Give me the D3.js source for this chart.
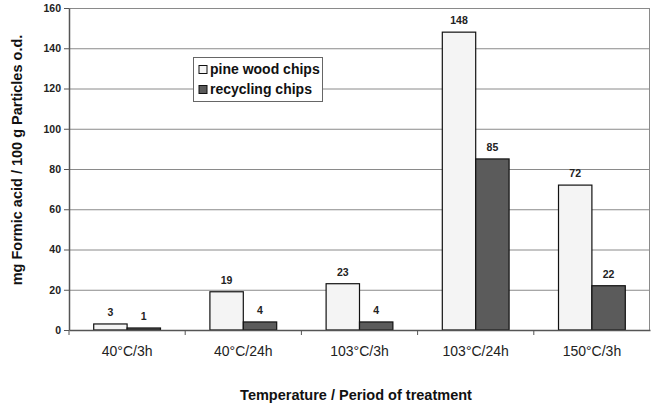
<!DOCTYPE html>
<html>
<head>
<meta charset="utf-8">
<script src="https://cdn.jsdelivr.net/npm/d3@7"></script>
<style>
  body { margin: 0; background: #fff; }
  text { font-family: "Liberation Sans", Arial, sans-serif; }
</style>
</head>
<body>
<div id="chart-container"></div>
<script>
let categories = ["40°C/3h", "40°C/24h", "103°C/3h", "103°C/24h", "150°C/3h"];
let pineValues = [3, 19, 23, 148, 72];
let recyclingValues = [1, 4, 4, 85, 22];
let seriesNames = ["pine wood chips", "recycling chips"];
let yTicks = [0, 20, 40, 60, 80, 100, 120, 140, 160];

let width = 654;
let height = 405;
let plot = { left: 69, right: 650, top: 8, bottom: 330 };
let colors = ["#f4f4f4", "#5b5b5b"];

var svg = d3
  .select("#chart-container")
  .append("svg")
  .attr("width", width)
  .attr("height", height);

let xScale = d3
  .scaleBand()
  .domain(categories)
  .range([plot.left, plot.right]);

// two bars per group, gap ~150% of bar width
let inner = d3
  .scaleBand()
  .domain([0, 1])
  .range([0, xScale.bandwidth()])
  .paddingInner(0)
  .paddingOuter(0.74);

let yScale = d3.scaleLinear().domain([0, 160]).range([plot.bottom, plot.top]);

// gridlines
svg
  .append("g")
  .selectAll("line")
  .data(yTicks.slice(1))
  .enter()
  .append("line")
  .attr("x1", plot.left)
  .attr("x2", plot.right)
  .attr("y1", (d) => yScale(d) + 0.5)
  .attr("y2", (d) => yScale(d) + 0.5)
  .style("stroke", "#8a8a8a")
  .style("stroke-width", 1);

// right border
svg
  .append("line")
  .attr("x1", plot.right - 0.5)
  .attr("x2", plot.right - 0.5)
  .attr("y1", plot.top)
  .attr("y2", plot.bottom)
  .style("stroke", "#8a8a8a");

let data = categories.map((c, i) => ({
  cat: c,
  vals: [pineValues[i], recyclingValues[i]],
}));

let groups = svg
  .append("g")
  .selectAll("g")
  .data(data)
  .enter()
  .append("g")
  .attr("transform", (d) => "translate(" + xScale(d.cat) + ",0)");

groups
  .selectAll("rect")
  .data((d) => d.vals)
  .enter()
  .append("rect")
  .attr("x", (d, i) => inner(i))
  .attr("y", (d) => yScale(d))
  .attr("width", inner.bandwidth())
  .attr("height", (d) => plot.bottom - yScale(d))
  .style("fill", (d, i) => colors[i])
  .style("stroke", "#111")
  .style("stroke-width", 1.2);

groups
  .selectAll("text")
  .data((d) => d.vals)
  .enter()
  .append("text")
  .attr("x", (d, i) => inner(i) + inner.bandwidth() / 2)
  .attr("y", (d) => yScale(d) - 8)
  .style("text-anchor", "middle")
  .style("font-size", "10.5px")
  .style("font-weight", "bold")
  .style("fill", "#222")
  .text((d) => d);

// Y axis
let yAxis = svg
  .append("g")
  .attr("transform", "translate(" + plot.left + ",0)")
  .call(d3.axisLeft(yScale).tickValues(yTicks).tickSize(5).tickSizeOuter(0));
yAxis.select(".domain").style("stroke", "#555").style("stroke-width", 1.5);
yAxis.selectAll(".tick line").style("stroke", "#555");
yAxis
  .selectAll("text")
  .style("font-size", "10.5px")
  .style("font-weight", "bold")
  .style("fill", "#222")
  .attr("x", -8);

// X axis
let xAxis = svg
  .append("g")
  .attr("transform", "translate(0," + plot.bottom + ")")
  .call(d3.axisBottom(xScale).tickSize(0).tickSizeOuter(0));
xAxis.select(".domain").style("stroke", "#555").style("stroke-width", 1.5);
xAxis
  .selectAll("text")
  .attr("y", 16)
  .style("font-size", "14px")
  .style("fill", "#222");

// x tick marks at category boundaries
svg
  .append("g")
  .selectAll("line")
  .data(categories)
  .enter()
  .append("line")
  .attr("x1", (d) => xScale(d))
  .attr("x2", (d) => xScale(d))
  .attr("y1", plot.bottom)
  .attr("y2", plot.bottom + 5)
  .style("stroke", "#555");

// axis titles
svg
  .append("text")
  .attr("transform", "rotate(-90)")
  .attr("x", -160)
  .attr("y", 22)
  .style("text-anchor", "middle")
  .style("font-size", "14.5px")
  .style("font-weight", "bold")
  .style("fill", "#111")
  .text("mg Formic acid / 100 g Particles o.d.");

svg
  .append("text")
  .attr("x", 356)
  .attr("y", 400)
  .style("text-anchor", "middle")
  .style("font-size", "14.5px")
  .style("font-weight", "bold")
  .style("fill", "#111")
  .text("Temperature / Period of treatment");

// legend
let legend = svg.append("g").attr("transform", "translate(193.5,57.5)");
legend
  .append("rect")
  .attr("width", 129)
  .attr("height", 44)
  .style("fill", "#fff")
  .style("stroke", "#666");

let items = legend
  .selectAll(".item")
  .data(seriesNames)
  .enter()
  .append("g")
  .attr("class", "item")
  .attr("transform", (d, i) => "translate(5.5," + (8 + i * 20) + ")");

items
  .append("rect")
  .attr("width", 8)
  .attr("height", 8)
  .style("fill", (d, i) => colors[i])
  .style("stroke", "#111");

items
  .append("text")
  .attr("x", 11)
  .attr("y", 8.5)
  .style("font-size", "14px")
  .style("font-weight", "bold")
  .style("fill", "#111")
  .text((d) => d);
</script>
</body>
</html>
